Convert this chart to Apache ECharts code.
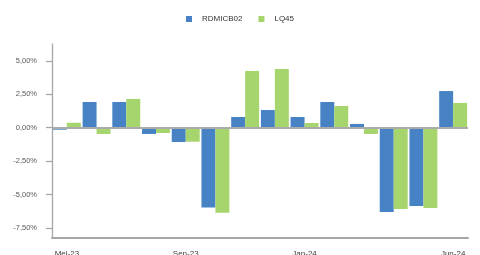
<!DOCTYPE html>
<html>
<head>
<meta charset="utf-8">
<script src="https://cdn.jsdelivr.net/npm/echarts@6/dist/echarts.min.js"></script>
<style>html,body{margin:0;padding:0;background:#fff;}#c{width:480px;height:255px;}</style>
</head>
<body>
<div id="c"></div>
<script>
var categories = ['Mei-23','Jun-23','Jul-23','Agu-23','Sep-23','Okt-23','Nov-23','Des-23','Jan-24','Feb-24','Mar-24','Apr-24','Mei-24','Jun-24'];
var shownLabels = [0, 4, 8, 13];
var rdmicb02 = [-0.15, 1.92, 1.92, -0.47, -1.07, -5.98, 0.80, 1.32, 0.80, 1.92, 0.28, -6.30, -5.86, 2.74];
var lq45 = [0.37, -0.47, 2.15, -0.40, -1.05, -6.36, 4.24, 4.39, 0.35, 1.62, -0.47, -6.08, -6.00, 1.85];
var yTicks = [-7.5, -5, -2.5, 0, 2.5, 5];

function fmt(v){ return v.toFixed(2).replace('.', ',') + '%'; }
var chart = echarts.init(document.getElementById('c'), null, {renderer:'canvas'});
chart.setOption({
  animation: false,
  textStyle: {fontFamily: 'Liberation Sans, Arial, sans-serif'},
  legend: {
    top: 10, left: 'center',
    itemWidth: 6, itemHeight: 6, itemGap: 16,
    icon: 'rect',
    textStyle: {fontSize: 8, color: '#333', padding: [0,0,0,5]},
    data: ['RDMICB02','LQ45']
  },
  grid: {left: 52, right: 12, top: 44, bottom: 17.7, containLabel: false, outerBoundsMode: 'none'},
  xAxis: {
    type: 'category', data: categories,
    axisLine: {onZero: false, lineStyle: {color: '#A6A6A6', width: 2}},
    axisTick: {alignWithLabel: true, length: 6, lineStyle: {color: '#A6A6A6', width: 1.5},
      interval: function(i){ return shownLabels.indexOf(i) >= 0; }},
    axisLabel: {fontSize: 8, color: '#404040', margin: 12,
      interval: function(i){ return shownLabels.indexOf(i) >= 0; }}
  },
  yAxis: {
    type: 'value', min: -8.2, max: 6.26,
    axisLine: {show: true, lineStyle: {color: '#A6A6A6', width: 1.3}},
    axisTick: {show: true, length: 6, customValues: yTicks, lineStyle: {color: '#A6A6A6', width: 1.3}},
    axisLabel: {fontSize: 7.5, color: '#595959', margin: 15, customValues: yTicks,
      formatter: function(v){ return fmt(v); }},
    splitLine: {show: false}
  },
  series: [
    {name: 'RDMICB02', type: 'bar', data: rdmicb02, itemStyle: {color: '#4682C4'},
      barGap: '0%', barCategoryGap: '6%',
      markLine: {silent: true, symbol: 'none', label: {show: false},
        lineStyle: {color: '#ABABAB', width: 2, type: 'solid'}, data: [{yAxis: 0}]}},
    {name: 'LQ45', type: 'bar', data: lq45, itemStyle: {color: '#A6D46D'},
      barGap: '0%', barCategoryGap: '6%'}
  ]
});
</script>
</body>
</html>
